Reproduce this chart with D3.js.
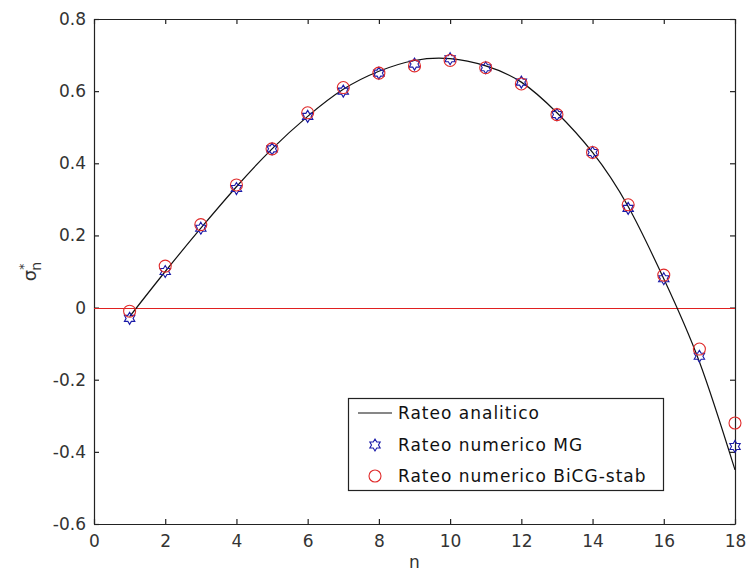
<!DOCTYPE html>
<html>
<head>
<meta charset="utf-8">
<script src="https://cdn.jsdelivr.net/npm/d3@7"></script>
<style>
  body { margin: 0; background: #fff; }
  svg text { font-family: "DejaVu Sans", "Liberation Sans", sans-serif; }
</style>
</head>
<body>
<div id="chart"></div>
<script>
// values
const nValues = [1, 2, 3, 4, 5, 6, 7, 8, 9, 10, 11, 12, 13, 14, 15, 16, 17, 18];
const analytic = [-0.025, 0.10, 0.22, 0.335, 0.44, 0.53, 0.605, 0.655, 0.685, 0.69, 0.67, 0.625, 0.54, 0.43, 0.28, 0.08, -0.15, -0.45];
const mgValues = [-0.03, 0.10, 0.22, 0.33, 0.44, 0.53, 0.60, 0.65, 0.675, 0.69, 0.665, 0.625, 0.535, 0.43, 0.275, 0.08, -0.135, -0.385];
const bicgValues = [-0.01, 0.115, 0.23, 0.34, 0.44, 0.54, 0.61, 0.65, 0.67, 0.685, 0.665, 0.62, 0.535, 0.43, 0.285, 0.09, -0.115, -0.32];
const xTicks = [0, 2, 4, 6, 8, 10, 12, 14, 16, 18];
const yTicks = [-0.6, -0.4, -0.2, 0, 0.2, 0.4, 0.6, 0.8];
const legendLabels = ["Rateo analitico", "Rateo numerico MG", "Rateo numerico BiCG-stab"];

const width = 747, height = 575;
const margin = { left: 94, right: 12, top: 19, bottom: 51 };

const svg = d3.select("#chart").append("svg")
    .attr("width", width)
    .attr("height", height);

const x = d3.scaleLinear().domain([0, 18]).range([margin.left, width - margin.right]);
const y = d3.scaleLinear().domain([-0.6, 0.8]).range([height - margin.bottom, margin.top]);

const axisColor = "#222";
const fmtY = d => d === 0 ? "0" : d3.format(".1f")(d).replace("\u2212", "-");

// ticks (inside) on all four sides
const gBottom = svg.append("g")
    .attr("transform", `translate(0,${y(-0.6)})`)
    .call(d3.axisBottom(x).tickValues(xTicks).tickSizeInner(-5).tickSizeOuter(0).tickPadding(11)
        .tickFormat(d3.format("d")));
const gTop = svg.append("g")
    .attr("transform", `translate(0,${y(0.8)})`)
    .call(d3.axisTop(x).tickValues(xTicks).tickSizeInner(-5).tickSizeOuter(0).tickFormat(""));
const gLeft = svg.append("g")
    .attr("transform", `translate(${x(0)},0)`)
    .call(d3.axisLeft(y).tickValues(yTicks).tickSizeInner(-5).tickSizeOuter(0).tickPadding(8)
        .tickFormat(fmtY));
const gRight = svg.append("g")
    .attr("transform", `translate(${x(18)},0)`)
    .call(d3.axisRight(y).tickValues(yTicks).tickSizeInner(-5).tickSizeOuter(0).tickFormat(""));

[gBottom, gTop, gLeft, gRight].forEach(g => {
    g.selectAll(".domain").attr("stroke", axisColor).attr("stroke-width", 1.2);
    g.selectAll(".tick line").attr("stroke", axisColor).attr("stroke-width", 1.2);
    g.selectAll("text").attr("fill", "#333").style("font-size", "17px");
});

// zero line
svg.append("line")
    .attr("x1", x(0)).attr("x2", x(18))
    .attr("y1", Math.round(y(0)) + 0.5).attr("y2", Math.round(y(0)) + 0.5)
    .attr("stroke", "#e02020")
    .attr("stroke-width", 1.2);

// analytic curve
const line = d3.line()
    .x((d, i) => x(nValues[i]))
    .y(d => y(d))
    .curve(d3.curveNatural);

svg.append("path")
    .datum(analytic)
    .attr("d", line)
    .attr("fill", "none")
    .attr("stroke", "#111")
    .attr("stroke-width", 1.2);

// hexagram marker
function hexagram(cx, cy, r) {
    const pts = [];
    for (let i = 0; i < 12; i++) {
        const a = -Math.PI / 2 + i * Math.PI / 6;
        const rr = i % 2 === 0 ? r : r * 0.58;
        pts.push([cx + rr * Math.cos(a), cy + rr * Math.sin(a)]);
    }
    return "M" + pts.map(p => p.join(",")).join("L") + "Z";
}

const blue = "#1a1aa8";
const red = "#e02a2a";

svg.append("g").selectAll("path")
    .data(mgValues)
    .join("path")
    .attr("d", (d, i) => hexagram(x(nValues[i]), y(d), 6))
    .attr("fill", "none")
    .attr("stroke", blue)
    .attr("stroke-width", 1.1);

svg.append("g").selectAll("circle")
    .data(bicgValues)
    .join("circle")
    .attr("cx", (d, i) => x(nValues[i]))
    .attr("cy", d => y(d))
    .attr("r", 6)
    .attr("fill", "none")
    .attr("stroke", red)
    .attr("stroke-width", 1.1);

// legend
const legend = svg.append("g");
legend.append("rect")
    .attr("x", 348.5).attr("y", 398.5)
    .attr("width", 315).attr("height", 92)
    .attr("fill", "#fff")
    .attr("stroke", axisColor)
    .attr("stroke-width", 1.2);

const rowY = [413, 445, 476];
legend.append("line")
    .attr("x1", 358).attr("x2", 392)
    .attr("y1", rowY[0]).attr("y2", rowY[0])
    .attr("stroke", "#111").attr("stroke-width", 1.2);
legend.append("path")
    .attr("d", hexagram(375, rowY[1], 6))
    .attr("fill", "none").attr("stroke", blue).attr("stroke-width", 1.1);
legend.append("circle")
    .attr("cx", 375).attr("cy", rowY[2]).attr("r", 6)
    .attr("fill", "none").attr("stroke", red).attr("stroke-width", 1.1);

legend.selectAll("text.lab")
    .data(legendLabels)
    .join("text")
    .attr("class", "lab")
    .attr("x", 398)
    .attr("y", (d, i) => rowY[i])
    .attr("dy", "0.35em")
    .attr("fill", "#111")
    .style("font-size", "17px")
    .style("letter-spacing", "1px")
    .text(d => d);

// axis labels
svg.append("text")
    .attr("x", x(9))
    .attr("y", 568)
    .attr("text-anchor", "middle")
    .attr("fill", "#333")
    .style("font-size", "17px")
    .text("n");

const yl = svg.append("text")
    .attr("transform", `translate(36,${y(0.1)}) rotate(-90)`)
    .attr("text-anchor", "middle")
    .attr("fill", "#333")
    .style("font-size", "18px");
yl.append("tspan").text("σ");
yl.append("tspan").attr("dy", "-8").style("font-size", "12px").text("*");
yl.append("tspan").attr("dx", "-7").attr("dy", "13").style("font-size", "14px").text("n");
</script>
</body>
</html>
